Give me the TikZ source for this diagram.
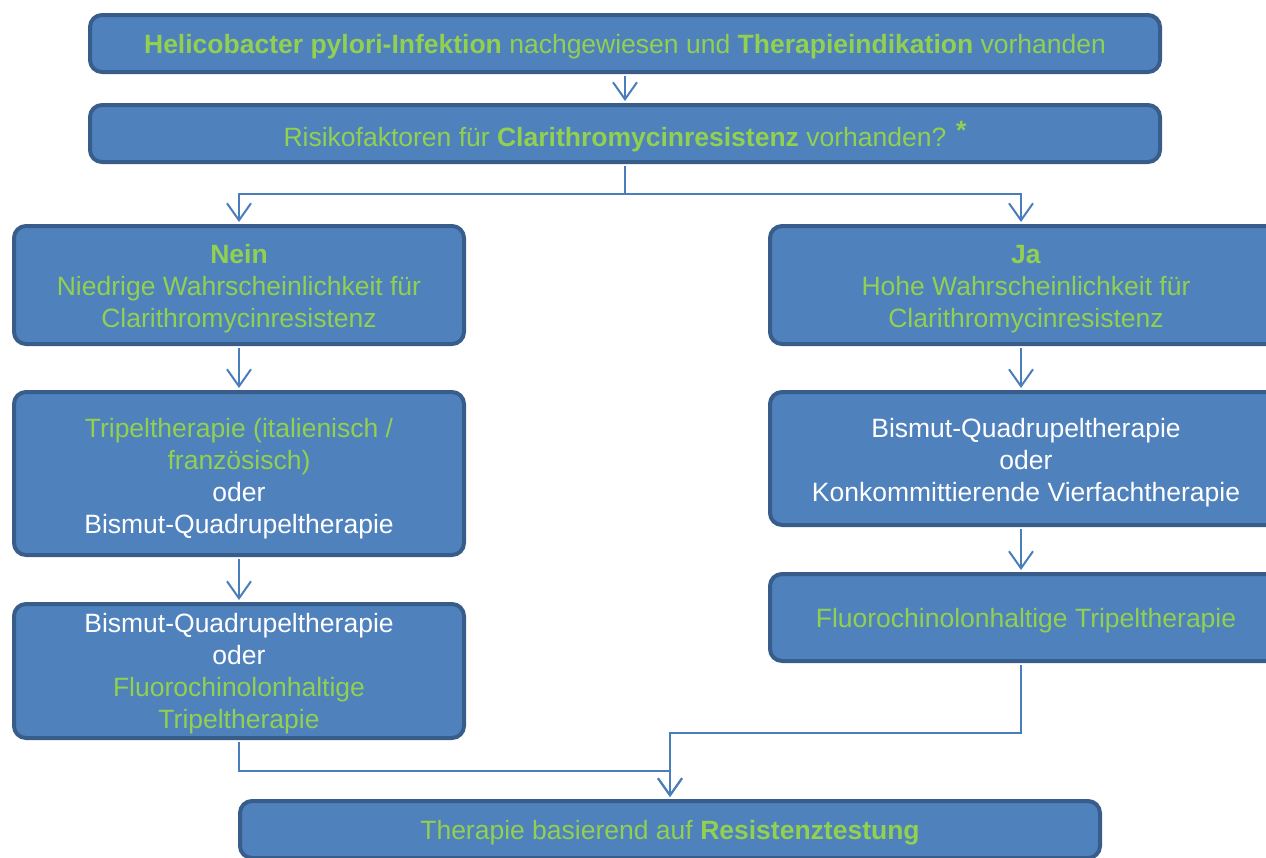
\documentclass[tikz,border=0pt]{standalone}
\usepackage{fontspec}
\setmainfont{Liberation Sans}
\usetikzlibrary{arrows.meta}
\definecolor{boxfill}{HTML}{4F81BD}
\definecolor{boxline}{HTML}{385D8A}
\definecolor{linkblue}{HTML}{4A7EBB}
\definecolor{tgreen}{HTML}{92D050}
\newcommand{\wt}[1]{\textcolor{white}{#1}}
\tikzset{
  box/.style={draw=boxline, line width=4pt, fill=boxfill, rounded corners=12pt,
    inner sep=0pt},
  txt/.style={inner sep=0pt, align=center, text=tgreen,
    font=\fontsize{26.5}{32}\selectfont},
  arr/.style={draw=linkblue, line width=2pt, -{Straight Barb[length=17pt,width=24pt,line width=2pt]}},
  link/.style={draw=linkblue, line width=2pt}
}
\begin{document}
\begin{tikzpicture}[x=1pt,y=-1pt]
\useasboundingbox (0,0) rectangle (1266,857);
\clip (0,0) rectangle (1266,857);
\node[box, minimum width=1070, minimum height=57] (top) at (625,43.5) {};
\node[txt] (toptxt) at ([yshift=-3pt]top.center)
  {\textbf{Helicobacter pylori-Infektion} nachgewiesen und \textbf{Therapieindikation} vorhanden};
\node[box, minimum width=1070, minimum height=57] (risk) at (625,133.5) {};
\node[txt] (risktxt) at ([yshift=-3pt]risk.center)
  {Risikofaktoren für \textbf{Clarithromycinresistenz} vorhanden? \raisebox{7pt}{\textbf{*}}};
\node[box, minimum width=450, minimum height=118] (nein) at (239,285) {};
\node[txt] (neintxt) at ([yshift=-4pt]nein.center)
  {\textbf{Nein}\\Niedrige Wahrscheinlichkeit für\\Clarithromycinresistenz};
\node[box, minimum width=512, minimum height=118] (ja) at (1026,285) {};
\node[txt] (jatxt) at ([yshift=-4pt]ja.center)
  {\textbf{Ja}\\Hohe Wahrscheinlichkeit für\\Clarithromycinresistenz};
\node[box, minimum width=450, minimum height=163] (l2) at (239,473.5) {};
\node[txt] (l2txt) at ([yshift=-5pt]l2.center)
  {Tripeltherapie (italienisch /\\französisch)\\\wt{oder}\\\wt{Bismut-Quadrupeltherapie}};
\node[box, minimum width=512, minimum height=133] (r2) at (1026,458.5) {};
\node[txt] (r2txt) at ([yshift=-4pt]r2.center)
  {\wt{Bismut-Quadrupeltherapie}\\\wt{oder}\\\wt{Konkommittierende Vierfachtherapie}};
\node[box, minimum width=450, minimum height=134] (l3) at (239,671) {};
\node[txt] (l3txt) at ([yshift=-3pt]l3.center)
  {\wt{Bismut-Quadrupeltherapie}\\\wt{oder}\\Fluorochinolonhaltige\\Tripeltherapie};
\node[box, minimum width=512, minimum height=87] (r3) at (1026,617.5) {};
\node[txt] (r3txt) at ([yshift=-3pt]r3.center)
  {Fluorochinolonhaltige Tripeltherapie};
\node[box, minimum width=860, minimum height=57] (bot) at (670,829.5) {};
\node[txt] (bottxt) at ([yshift=-3pt]bot.center)
  {Therapie basierend auf \textbf{Resistenztestung}};
\coordinate (split) at (625,194);
\draw[arr] ([yshift=-2pt]top.south) -- ([yshift=2pt]risk.north);
\draw[link] ([yshift=-2pt]risk.south) -- (split);
\draw[arr] (split) -| ([yshift=2pt]nein.north);
\draw[arr] (split) -| ([xshift=-5pt,yshift=2pt]ja.north);
\draw[arr] ([yshift=-2pt]nein.south) -- ([yshift=2pt]l2.north);
\draw[arr] ([yshift=-2pt]l2.south) -- ([yshift=2pt]l3.north);
\draw[arr] ([xshift=-5pt,yshift=-2pt]ja.south) -- ([xshift=-5pt,yshift=2pt]r2.north);
\draw[arr] ([xshift=-5pt,yshift=-2pt]r2.south) -- ([xshift=-5pt,yshift=2pt]r3.north);
\draw[arr] ([yshift=-2pt]l3.south) -- ++(0,29) -| ([yshift=2pt]bot.north);
\draw[arr] ([xshift=-5pt,yshift=-2pt]r3.south) -- ++(0,68) -| ([yshift=2pt]bot.north);
\end{tikzpicture}
\end{document}
